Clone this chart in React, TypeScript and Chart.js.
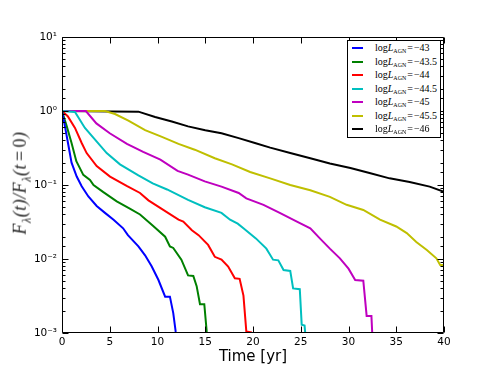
import React, { useEffect, useRef } from "react";
import { Chart, registerables } from "chart.js";
Chart.register(...registerables);

const seriesNames = ["\u221243", "\u221243.5", "\u221244", "\u221244.5", "\u221245", "\u221245.5", "\u221246"];
const seriesColors = ["#0000ff", "#008000", "#ff0000", "#00bfbf", "#bf00bf", "#bfbf00", "#000000"];

const t43 = [0, 0.31, 0.66, 1.0, 1.54, 2.06, 2.76, 3.63, 4.5, 5.4, 6.4, 6.9, 8.0, 8.7, 9.4, 10.1, 10.8, 11.3, 11.65, 11.9, 12.0];
const f43 = [1, 0.62, 0.35, 0.2, 0.13, 0.096, 0.07, 0.052, 0.042, 0.034, 0.026, 0.021, 0.0148, 0.0112, 0.0079, 0.0052, 0.0031, 0.0031, 0.00186, 0.00105, 0.0009];

const t435 = [0, 0.5, 1.0, 1.5, 2.23, 2.93, 3.3, 4.33, 5.73, 7.1, 8.17, 9.55, 10.8, 11.3, 11.65, 12.5, 13.2, 13.75, 14.1, 14.45, 14.9, 15.15, 15.3];
const f435 = [1, 0.62, 0.37, 0.21, 0.137, 0.117, 0.1, 0.08, 0.06, 0.048, 0.04, 0.028, 0.02, 0.0148, 0.0141, 0.0098, 0.006, 0.0059, 0.0043, 0.00245, 0.00245, 0.00105, 0.0009];

const t44 = [0, 0.6, 1.36, 2.06, 2.58, 3.63, 5.03, 6.77, 8.17, 9.05, 10.4, 12.2, 12.7, 13.6, 14.3, 15.3, 16.0, 16.7, 17.4, 18.1, 18.6, 19.0, 19.3, 19.8, 19.9];
const f44 = [1, 0.85, 0.59, 0.37, 0.27, 0.18, 0.13, 0.097, 0.078, 0.062, 0.048, 0.034, 0.032, 0.0245, 0.021, 0.0155, 0.0107, 0.0098, 0.0079, 0.0055, 0.0054, 0.0032, 0.00105, 0.00102, 0.0009];

const t445 = [0, 1.36, 2.4, 3.46, 4.68, 6.07, 8.0, 9.5, 11.0, 13.2, 14.95, 16.7, 17.6, 18.4, 19.0, 20.3, 21.4, 22.1, 22.65, 23.2, 23.9, 24.2, 24.9, 25.1, 25.4, 25.5];
const f445 = [1, 0.97, 0.59, 0.41, 0.27, 0.19, 0.135, 0.105, 0.087, 0.063, 0.05, 0.042, 0.034, 0.03, 0.026, 0.019, 0.0138, 0.0098, 0.0096, 0.0071, 0.0069, 0.004, 0.0039, 0.00129, 0.00126, 0.0009];

const t45 = [0, 2.5, 3.6, 5.0, 6.8, 8.5, 10.3, 12.1, 13.2, 14.95, 16.7, 18.5, 19.3, 21.1, 22.8, 24.6, 26.0, 27.0, 28.05, 29.1, 30.0, 30.7, 31.55, 31.9, 32.4, 32.5];
const f45 = [1, 1, 0.68, 0.5, 0.36, 0.28, 0.22, 0.155, 0.138, 0.112, 0.095, 0.078, 0.066, 0.054, 0.042, 0.032, 0.026, 0.019, 0.0138, 0.0102, 0.0074, 0.0052, 0.0051, 0.0017, 0.0017, 0.0009];

const t455 = [0, 4.5, 5.55, 6.95, 8.7, 10.4, 12.2, 13.9, 16.0, 17.8, 19.7, 21.8, 23.9, 26.0, 28.05, 29.8, 31.55, 33.3, 35.0, 36.1, 37.1, 38.2, 39.2, 39.6, 40];
const f455 = [1, 1, 0.91, 0.74, 0.55, 0.45, 0.36, 0.3, 0.23, 0.19, 0.15, 0.123, 0.1, 0.085, 0.069, 0.054, 0.046, 0.034, 0.0275, 0.0224, 0.017, 0.0132, 0.0102, 0.0083, 0.0083];

const t46 = [0, 8.0, 9.75, 11.5, 13.2, 15.0, 16.7, 18.5, 20.2, 21.8, 23.9, 26.0, 28.05, 30.2, 32.2, 34.3, 36.4, 38.5, 40];
const f46 = [1, 0.98, 0.83, 0.72, 0.62, 0.55, 0.5, 0.43, 0.37, 0.32, 0.27, 0.23, 0.195, 0.17, 0.145, 0.123, 0.11, 0.095, 0.081];

const seriesTimes = [t43, t435, t44, t445, t45, t455, t46];
const seriesFlux = [f43, f435, f44, f445, f45, f455, f46];

const xTickValues = [0, 5, 10, 15, 20, 25, 30, 35, 40];
const yTickValues = [0.001, 0.01, 0.1, 1, 10];
const yTickLabels = ["10\u207B\u00B3", "10\u207B\u00B2", "10\u207B\u00B9", "10\u2070", "10\u00B9"];

const framePlugin = {
  id: "frame",
  afterDraw(chart: any) {
    const { ctx, chartArea: a, scales } = chart;
    ctx.save();
    ctx.strokeStyle = "#000";
    ctx.lineWidth = 1;
    const L = Math.round(a.left) + 0.5;
    const R = Math.round(a.right) - 0.5;
    const T = Math.round(a.top) + 0.5;
    const B = Math.round(a.bottom) - 0.5;
    ctx.beginPath();
    ctx.rect(L, T, R - L, B - T);
    ctx.stroke();
    ctx.beginPath();
    for (const v of xTickValues) {
      const px = Math.round(scales.x.getPixelForValue(v)) + 0.5;
      ctx.moveTo(px, B);
      ctx.lineTo(px, B - 6);
      ctx.moveTo(px, T);
      ctx.lineTo(px, T + 6);
    }
    for (const tk of scales.y.ticks) {
      const e = Math.log10(tk.value);
      const major = Math.abs(e - Math.round(e)) < 1e-6;
      const len = major ? 6 : 3;
      const py = Math.round(scales.y.getPixelForValue(tk.value)) + 0.5;
      ctx.moveTo(L, py);
      ctx.lineTo(L + len, py);
      ctx.moveTo(R, py);
      ctx.lineTo(R - len, py);
    }
    ctx.stroke();
    ctx.restore();
  },
};

export default function App() {
  const ref = useRef<HTMLCanvasElement>(null);
  useEffect(() => {
    const datasets = seriesNames.map((name, i) => ({
      label: "logL_AGN = " + name,
      data: seriesTimes[i].map((t, j) => ({ x: t, y: seriesFlux[i][j] })),
      borderColor: seriesColors[i],
      backgroundColor: seriesColors[i],
      borderWidth: 2,
      pointRadius: 0,
      tension: 0,
      fill: false,
    }));
    const chart = new Chart(ref.current!, {
      type: "line",
      data: { datasets },
      plugins: [framePlugin],
      options: {
        animation: false,
        responsive: false,
        maintainAspectRatio: false,
        layout: { padding: { left: 0, top: 37, right: 50, bottom: 0 } },
        plugins: { legend: { display: false }, tooltip: { enabled: false } },
        scales: {
          x: {
            type: "linear",
            min: 0,
            max: 40,
            grid: { display: false, drawTicks: false },
            border: { display: false },
            afterBuildTicks: (s: any) => {
              s.ticks = xTickValues.map((v) => ({ value: v }));
            },
            afterFit: (s: any) => {
              s.height = 38;
            },
            ticks: {
              padding: 3,
              color: "#000",
              autoSkip: false,
              maxRotation: 0,
              font: { family: "DejaVu Sans", size: 10.5 },
              callback: (v: any) => String(v),
            },
            title: {
              display: true,
              text: "Time [yr]",
              color: "#000",
              font: { family: "DejaVu Sans", size: 15 },
              padding: { top: 0, bottom: 5 },
            },
          },
          y: {
            type: "logarithmic",
            min: 0.001,
            max: 10,
            grid: { display: false, drawTicks: false },
            border: { display: false },
            afterFit: (s: any) => {
              s.width = 62;
            },
            ticks: {
              padding: 5,
              color: "#000",
              autoSkip: false,
              font: { family: "DejaVu Sans", size: 10.5 },
              callback: (v: any) => {
                const idx = yTickValues.findIndex((y) => Math.abs(y - v) / y < 1e-6);
                return idx >= 0 ? yTickLabels[idx] : "";
              },
            },
          },
        },
      },
    });
    return () => chart.destroy();
  }, []);

  return (
    <div style={{ position: "absolute", left: 0, top: 0, width: 494, height: 371, background: "#fff" }}>
      <canvas ref={ref} width={494} height={371} style={{ position: "absolute", left: 0, top: 0 }} />
      <div
        style={{
          position: "absolute",
          left: 22,
          top: 183,
          transform: "translate(-50%, -50%) rotate(-90deg)",
          whiteSpace: "nowrap",
          fontFamily: "'Liberation Serif', serif",
          fontStyle: "italic",
          fontSize: 18,
          color: "#222",
          letterSpacing: 0.5,
        }}
      >
        F<sub style={{ fontSize: 12 }}>λ</sub>(t)/F<sub style={{ fontSize: 12 }}>λ</sub>(t<span style={{ fontStyle: "normal", margin: "0 3px" }}>=</span><span style={{ fontStyle: "normal" }}>0</span>)
      </div>
      <div
        style={{
          position: "absolute",
          left: 347,
          top: 40,
          width: 92,
          height: 96,
          border: "1px solid #000",
          background: "#fff",
          boxSizing: "content-box",
        }}
      >
        {seriesNames.map((name, i) => (
          <div key={i} style={{ position: "absolute", left: 0, top: i * 13.5, height: 13.5, width: 92 }}>
            <div style={{ position: "absolute", left: 4, top: 6, width: 11, height: 2, background: seriesColors[i] }} />
            <div
              style={{
                position: "absolute",
                left: 27,
                top: 0,
                lineHeight: "13.5px",
                whiteSpace: "nowrap",
                fontFamily: "'Liberation Serif', serif",
                fontSize: 10,
                color: "#000",
              }}
            >
              log<i>L</i>
              <sub style={{ fontSize: 6, verticalAlign: "-2px" }}>AGN</sub>
              <span style={{ margin: "0 1px" }}>=</span>
              {name}
            </div>
          </div>
        ))}
      </div>
    </div>
  );
}
